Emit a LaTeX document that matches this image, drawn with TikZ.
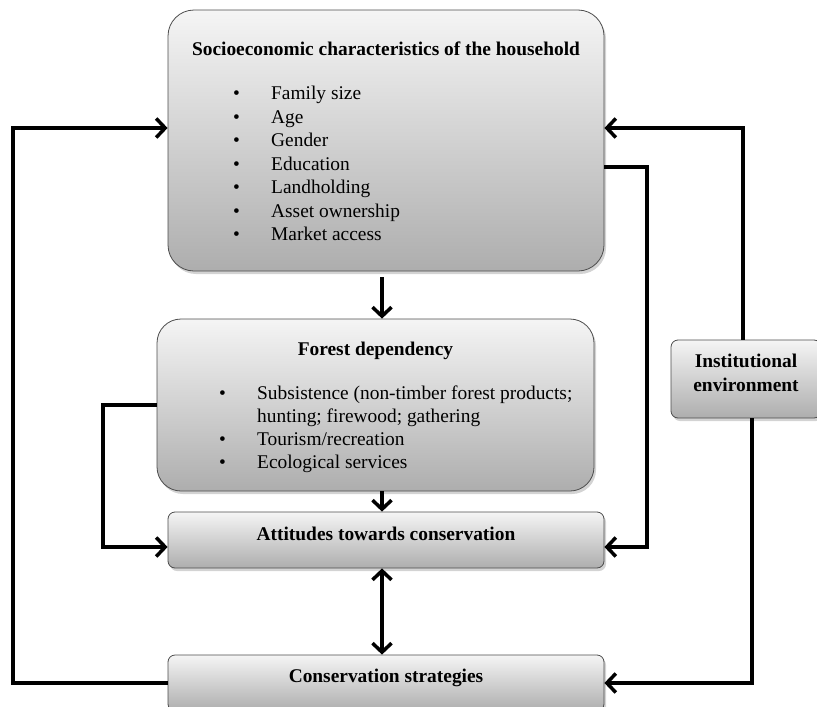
\documentclass[tikz,border=0pt]{standalone}
\usepackage{fontspec}
\setmainfont{Liberation Serif}
\usetikzlibrary{arrows.meta, positioning, calc, shadows}
\tikzstyle{arrow} = [line width=3.5pt, -{Straight Barb[length=9pt, width=19pt]}]

\newcommand{\itm}[1]{\makebox[38pt][l]{\textbullet}#1}

\begin{document}
\begin{tikzpicture}[x=1pt, y=-1pt,
  font=\fontsize{19.4}{23.5}\selectfont,
  panel/.style={draw=black!70, line width=0.8pt, rounded corners=26pt, top color=black!4, bottom color=black!32,
    drop shadow={shadow xshift=2pt, shadow yshift=-3pt, opacity=0.35}, minimum width=436pt, inner sep=0pt},
  strip/.style={panel, rounded corners=7pt, minimum height=56pt},
  heading/.style={anchor=base, font=\fontsize{19.4}{23.5}\selectfont\bfseries},
  item/.style={anchor=base west, inner sep=0pt},
  twoway/.style={{Straight Barb[length=9pt, width=19pt]}-{Straight Barb[length=9pt, width=19pt]}}
]
\useasboundingbox (0,0) rectangle (817,707);

% Boxes
\node[panel, minimum height=261pt] (soc) at (386,140.5) {};
\node[panel, minimum width=437pt, minimum height=172pt, rounded corners=24pt] (forest) at (375.5,405) {};
\node[strip] (att) at (386,540) {};
\node[strip] (cons) at (386,683) {};
\node[strip, minimum width=150pt, minimum height=78pt] (inst) at (746,379) {};

% Texts of the household box
\node[heading] (socTitle) at (386,55) {Socioeconomic characteristics of the household};
\node[item] (size) at (233,99) {\itm{Family size}};
\node[item] (age) at (233,123) {\itm{Age}};
\node[item] (gender) at (233,146) {\itm{Gender}};
\node[item] (edu) at (233,170) {\itm{Education}};
\node[item] (land) at (233,193) {\itm{Landholding}};
\node[item] (asset) at (233,217) {\itm{Asset ownership}};
\node[item] (market) at (233,240) {\itm{Market access}};

% Texts of the forest box
\node[heading] (forestTitle) at (375.5,355) {Forest dependency};
\node[item] (subs) at (219,399) {\itm{Subsistence (non-timber forest products;}};
\node[item] (hunt) at (257,422) {hunting; firewood; gathering};
\node[item] (tour) at (219,445) {\itm{Tourism/recreation}};
\node[item] (eco) at (219,468) {\itm{Ecological services}};

\node[heading] (attText) at (386,540) {Attitudes towards conservation};
\node[heading] (consText) at (386,682) {Conservation strategies};
\node[heading, anchor=center, align=center] (instText) at (746,373) {Institutional\\environment};

% Rails
\coordinate (spine) at (382,0);
\coordinate (leftRail) at (13,400);
\coordinate (loopRail) at (103,480);
\coordinate (midRail) at (647,300);
\coordinate (socLeft) at ([yshift=12.5pt]soc.west);
\coordinate (socRight) at ([yshift=12.5pt]soc.east);

% Arrows
\draw[arrow, shorten <=6pt] (spine |- soc.south) -- (spine |- forest.north);
\draw[arrow] (spine |- forest.south) -- (spine |- att.north);
\draw[arrow, twoway] (spine |- att.south) -- (spine |- cons.north);
\draw[arrow] (cons.west) -| (leftRail) |- (socLeft);
\draw[arrow] ([xshift=-3pt]inst.north) |- (socRight);
\draw[arrow] ([xshift=6pt]inst.south) |- (cons.east);
\draw[arrow] ([yshift=-26.5pt]soc.east) -| (midRail) |- ([yshift=-7pt]att.east);
\draw[arrow] (forest.west) -| (loopRail) |- ([yshift=-7pt]att.west);

\end{tikzpicture}
\end{document}
